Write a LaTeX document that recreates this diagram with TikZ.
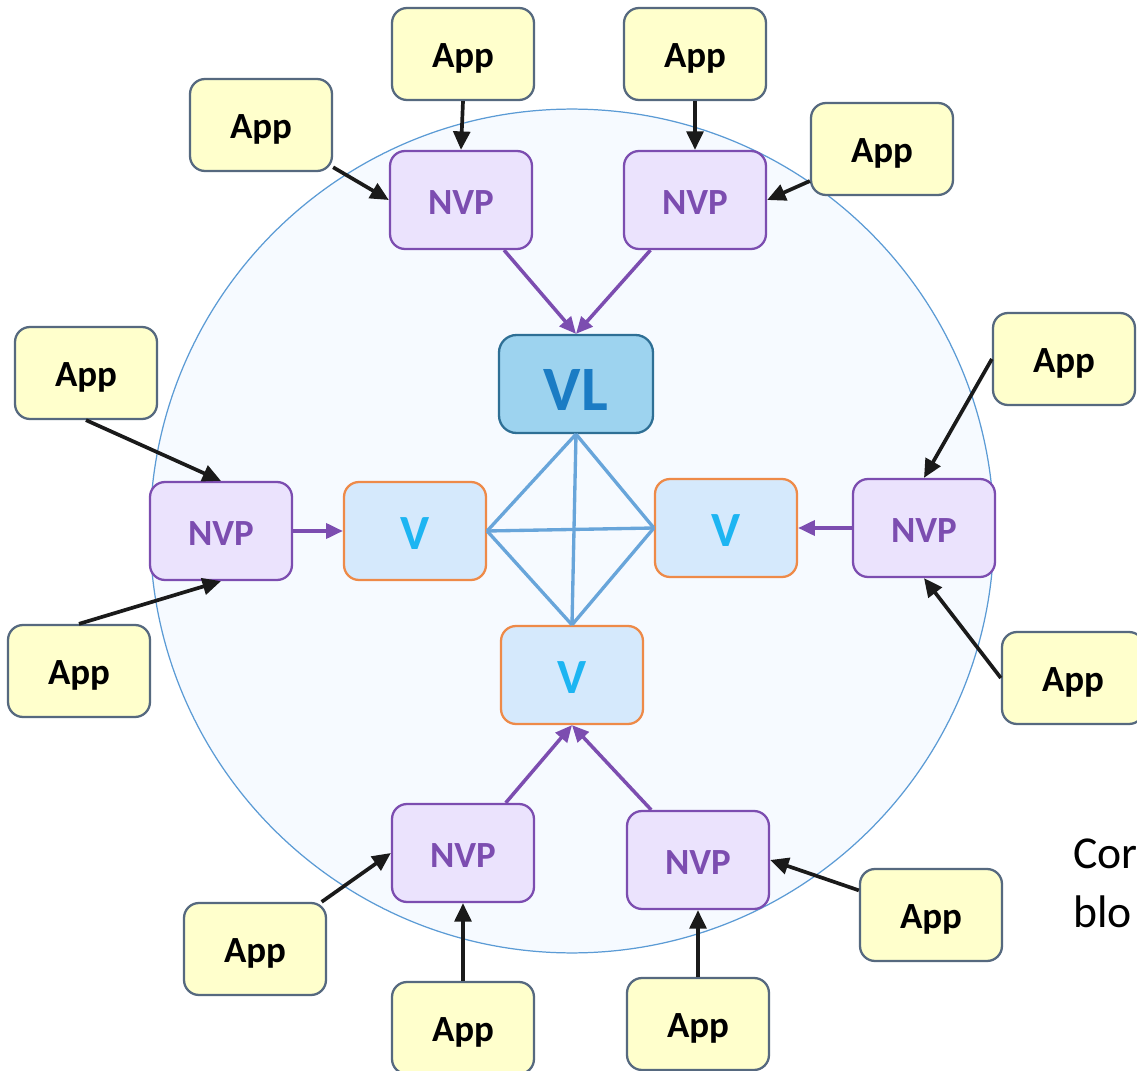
\documentclass[tikz,border=0pt]{standalone}
\usepackage{fontspec}
\setmainfont{Carlito}
\usepackage{tikz}
\usetikzlibrary{arrows.meta}

\definecolor{appfill}{HTML}{FFFFCC}
\definecolor{appline}{HTML}{56697F}
\definecolor{nvpfill}{HTML}{EBE3FD}
\definecolor{nvpline}{HTML}{7C4DB0}
\definecolor{vlfill}{HTML}{9DD3EF}
\definecolor{vlline}{HTML}{2E6F95}
\definecolor{vltext}{HTML}{1B7CC4}
\definecolor{vfill}{HTML}{D5E9FC}
\definecolor{vline}{HTML}{EE8A48}
\definecolor{vtext}{HTML}{1DB5F2}
\definecolor{meshline}{HTML}{68A5DA}
\definecolor{ringfill}{HTML}{F6FAFF}
\definecolor{ringline}{HTML}{5B9BD5}
\definecolor{feedline}{HTML}{1A1A1A}

\tikzset{
  box/.style={shape=rectangle, rounded corners=0.3cm, line width=1.3pt, text depth=0pt},
  app/.style={box, draw=appline, fill=appfill, text height=15pt,
    minimum width=2.84cm, minimum height=1.84cm,
    font=\fontsize{21}{24}\selectfont\bfseries},
  nvp/.style={box, draw=nvpline, fill=nvpfill, text height=17pt,
    minimum width=2.84cm, minimum height=1.96cm,
    text=nvpline, font=\fontsize{21}{24}\selectfont\bfseries},
  vl/.style={box, rounded corners=0.35cm, draw=vlline, fill=vlfill, text height=30pt,
    minimum width=3.08cm, minimum height=1.96cm,
    text=vltext, font=\fontsize{36}{40}\selectfont\bfseries},
  vnode/.style={box, draw=vline, fill=vfill, text height=21pt,
    minimum width=2.84cm, minimum height=1.96cm,
    text=vtext, font=\fontsize{28}{30}\selectfont\bfseries},
  feed/.style={draw=feedline, line width=2.1pt, -{Triangle[length=10.5pt,width=9.5pt]}},
  link/.style={draw=nvpline, line width=2pt, -{Triangle[length=9.5pt,width=8.5pt]}},
  mesh/.style={draw=meshline, line width=1.9pt},
  note/.style={anchor=base west, inner sep=0pt, font=\fontsize{26}{31}\selectfont}
}

\begin{document}
\begin{tikzpicture}[x=0.02cm, y=-0.02cm]
  \clip (0, 0) rectangle (1137, 1071);
  \fill[white] (0, 0) rectangle (1137, 1071);
  \draw[fill=ringfill, draw=ringline, line width=0.7pt] (572, 531) circle [radius=8.44cm];

  % core
  \node (vl) at (576, 384) [vl] {VL};
  \node (v1) at (415, 531) [vnode] {V};
  \node (v2) at (726, 528) [vnode] {V};
  \node (v3) at (572, 675) [vnode] {V};
  \draw[mesh] (vl.south) -- (v1.east);
  \draw[mesh] (vl.south) -- (v2.west);
  \draw[mesh] (vl.south) -- (v3.north);
  \draw[mesh] (v1.east) -- (v2.west);
  \draw[mesh] (v1.east) -- (v3.north);
  \draw[mesh] (v2.west) -- (v3.north);

  % proxies
  \node (nvp1) at (461, 200) [nvp] {NVP};
  \node (nvp2) at (695, 200) [nvp] {NVP};
  \node (nvp3) at (221, 531) [nvp] {NVP};
  \node (nvp4) at (924, 528) [nvp] {NVP};
  \node (nvp5) at (463, 853) [nvp] {NVP};
  \node (nvp6) at (698, 860) [nvp] {NVP};
  \draw[link] (nvp1) -- (vl.north);
  \draw[link] (nvp2) -- (vl.north);
  \draw[link] (nvp3.east) -- (v1.west);
  \draw[link] (nvp4.west) -- (v2.east);
  \draw[link] (nvp5) -- (v3.south);
  \draw[link] (nvp6) -- (v3.south);

  % apps
  \node (app1) at (463, 54) [app] {App};
  \node (app2) at (695, 54) [app] {App};
  \node (app3) at (261, 125) [app] {App};
  \node (app4) at (882, 149) [app] {App};
  \node (app5) at (86, 373) [app] {App};
  \node (app6) at (1064, 359) [app] {App};
  \node (app7) at (79, 671) [app] {App};
  \node (app8) at (1073, 678) [app] {App};
  \node (app9) at (931, 915) [app] {App};
  \node (app10) at (255, 949) [app] {App};
  \node (app11) at (463, 1028) [app] {App};
  \node (app12) at (698, 1024) [app] {App};
  \draw[feed] (app1.south) -- (nvp1.north);
  \draw[feed] (app2.south) -- (nvp2.north);
  \draw[feed] (app3) -- (nvp1.west);
  \draw[feed] (app4) -- (nvp2.east);
  \draw[feed] (app5.south) -- (nvp3.north);
  \draw[feed] (app7.north) -- (nvp3.south);
  \draw[feed] (app6.west) -- (nvp4.north);
  \draw[feed] (app8.west) -- (nvp4.south);
  \draw[feed] (app9) -- (nvp6.east);
  \draw[feed] (app10) -- (nvp5.west);
  \draw[feed] (app11.north) -- (nvp5.south);
  \draw[feed] (app12.north) -- (nvp6.south);

  % cut-off caption
  \node (cap1) at (1073, 868) [note] {Cor};
  \node (cap2) at (1073, 927) [note] {blo};
\end{tikzpicture}
\end{document}
